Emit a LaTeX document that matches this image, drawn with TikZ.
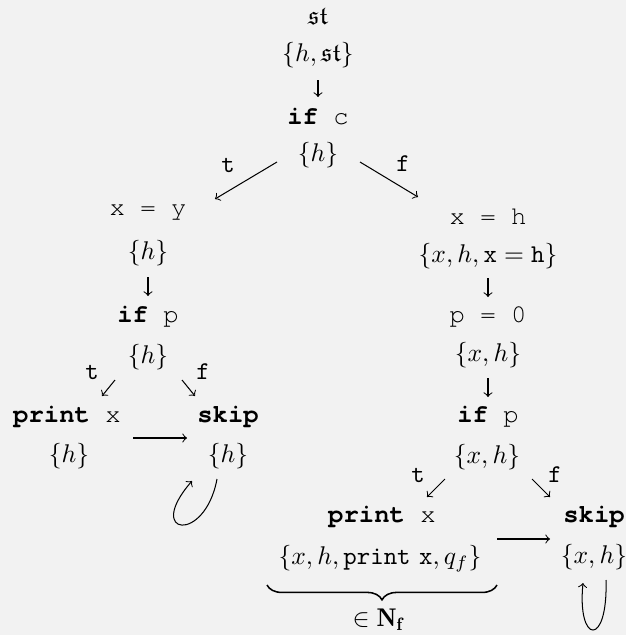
\documentclass[tikz,border=0pt]{standalone}
\usepackage{amssymb}
\usepackage{fontspec}
\newfontfamily\cour{TeX Gyre Cursor}
\usetikzlibrary{decorations.pathreplacing}
\definecolor{bg}{HTML}{F2F2F2}
\begin{document}
\begin{tikzpicture}[x=0.390625pt,y=-0.390625pt,
  every node/.style={inner sep=0pt,outer sep=0pt},
  code/.style={font=\cour},
  lbl/.style={font=\ttfamily},
  arr/.style={->,line width=0.4pt}]
\fill[bg] (0,0) rectangle (626,635);
\useasboundingbox (0,0) rectangle (626,635);
% top
\node (st)  at (318,17)  {$\mathfrak{st}$};
\node (s1)  at (318,55)  {$\{h,\mathfrak{st}\}$};
\node[code] (ifc) at (318,117) {{\bfseries if} c};
\node (s2)  at (318,155) {$\{h\}$};
\node[lbl] (lt) at (228,165) {t};
\node[lbl] (lf) at (403,164) {f};
% left branch
\node[code] (xy) at (148,213) {x = y};
\node (s3) at (148,253) {$\{h\}$};
\node[code] (ifp1) at (148,317) {{\bfseries if} p};
\node (s4) at (148,357) {$\{h\}$};
\node[lbl] (lt1) at (92,372) {t};
\node[lbl] (lf1) at (203,372) {f};
\node[code] (pr1) at (67,417) {{\bfseries print} x};
\node (s5) at (69,456) {$\{h\}$};
\node[code] (sk1) at (228,417) {{\bfseries skip}};
\node (s6) at (228,456) {$\{h\}$};
% right branch
\node[code] (xh) at (488,217) {x = h};
\node (s7) at (488,256) {$\{x,h,\mathtt{x}=\mathtt{h}\}$};
\node[code] (p0) at (488,317) {p = 0};
\node (s8) at (488,355) {$\{x,h\}$};
\node[code] (ifp2) at (488,417) {{\bfseries if} p};
\node (s9) at (487,457) {$\{x,h\}$};
\node[lbl] (lt2) at (418,475) {t};
\node[lbl] (lf2) at (555,475) {f};
\node[code] (pr2) at (382,517) {{\bfseries print} x};
\node (s10) at (380,559) {$\{x,h,\mathtt{print\ x},q_f\}$};
\node[code] (sk2) at (594,517) {{\bfseries skip}};
\node (s11) at (594,557) {$\{x,h\}$};
\node (nf) at (378,620) {$\in\mathbf{N_f}$};
% vertical arrows
\draw[arr] ([shift={(0,25)}]s1.center) -- ([shift={(0,-20)}]ifc.center);
\draw[arr] ([shift={(0,24)}]s3.center) -- ([shift={(0,-21)}]ifp1.center);
\draw[arr] ([shift={(0,22)}]s7.center) -- ([shift={(0,-20)}]p0.center);
\draw[arr] ([shift={(0,23)}]s8.center) -- ([shift={(0,-20)}]ifp2.center);
% diagonal arrows
\draw[arr] ([shift={(-41,7)}]s2.center) -- ([shift={(67,-14)}]xy.center);
\draw[arr] ([shift={(42,7)}]s2.center) -- ([shift={(-70,-20)}]xh.center);
\draw[arr] ([shift={(-33,23)}]s4.center) -- ([shift={(35,-21)}]pr1.center);
\draw[arr] ([shift={(34,23)}]s4.center) -- ([shift={(-33,-21)}]sk1.center);
\draw[arr] ([shift={(-42,22)}]s9.center) -- ([shift={(45,-20)}]pr2.center);
\draw[arr] ([shift={(45,22)}]s9.center) -- ([shift={(-44,-20)}]sk2.center);
% horizontal arrows
\draw[arr] ([shift={(-95,-18)}]s6.center) -- ([shift={(-41,-18)}]s6.center);
\draw[arr] ([shift={(117,-20)}]s10.center) -- ([shift={(-44,-18)}]s11.center);
% loops
\draw[arr] ([shift={(-11,23)}]s6.center) .. controls +(-12,65) and +(-48,55) .. ([shift={(-36,25)}]s6.center);
\draw[arr] ([shift={(12,23)}]s11.center) .. controls +(2,68) and +(-6,61) .. ([shift={(-11,26)}]s11.center);
% brace
\draw[decorate,decoration={brace,mirror,amplitude=5.8pt},line width=0.6pt]
  ([shift={(-113,26)}]s10.center) -- ([shift={(117,26)}]s10.center);
\end{tikzpicture}
\end{document}
